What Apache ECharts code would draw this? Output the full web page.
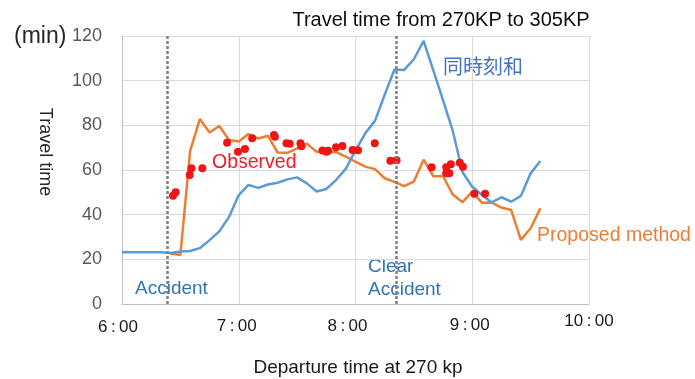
<!DOCTYPE html>
<html>
<head>
<meta charset="utf-8">
<script src="https://cdn.jsdelivr.net/npm/echarts/dist/echarts.min.js"></script>
<style>
  html, body { margin: 0; padding: 0; background: #ffffff; }
  #chart { width: 695px; height: 379px; }
</style>
</head>
<body>
<div id="chart"></div>
<script>
// Departure times (5-minute steps) for the simultaneous-sum estimate
const sumTimes = ['6:00','6:05','6:10','6:15','6:20','6:25','6:30','6:35','6:40','6:45','6:50','6:55',
  '7:00','7:05','7:10','7:15','7:20','7:25','7:30','7:35','7:40','7:45','7:50','7:55',
  '8:00','8:05','8:10','8:15','8:20','8:25','8:30','8:35','8:40','8:45','8:50','8:55',
  '9:00','9:05','9:10','9:15','9:20','9:25','9:30','9:35'];
// 同時刻和 travel time (min)
const sumValues = [23.2, 23.2, 23.2, 23.2, 23.2, 22.8, 23.5, 23.7, 25.0, 28.6, 32.5, 39.0,
  48.8, 53.3, 52.0, 53.5, 54.3, 55.8, 56.7, 54.0, 50.4, 51.5, 55.5, 60.5,
  68.8, 76.4, 82.0, 93.7, 105.0, 104.8, 109.6, 117.8, 104.6, 91.2, 77.5, 59.0,
  52.5, 48.8, 45.5, 47.8, 45.8, 48.4, 58.5, 64.0];

// Departure times for the proposed method
const proposedTimes = ['6:25','6:30','6:35','6:40','6:45','6:50','6:55',
  '7:00','7:05','7:10','7:15','7:20','7:25','7:30','7:35','7:40','7:45','7:50','7:55',
  '8:00','8:05','8:10','8:15','8:20','8:25','8:30','8:35','8:40','8:45','8:50','8:55',
  '9:00','9:05','9:10','9:15','9:20','9:25','9:30','9:35'];
// Proposed method travel time (min)
const proposedValues = [22.6, 21.9, 68.5, 82.8, 76.8, 79.7, 73.4,
  72.8, 76.1, 74.1, 75.3, 67.8, 67.7, 69.7, 71.8, 68.2, 68.3, 68.0, 66.0,
  63.7, 61.5, 60.4, 56.3, 54.7, 52.8, 54.8, 64.6, 57.2, 57.2, 49.0, 45.6,
  50.3, 45.3, 45.4, 43.2, 42.1, 28.7, 33.9, 42.8];

// Observed (probe) travel times
const observedTimes = ['6:26:12','6:27:36','6:34:48','6:35:42','6:41:18','6:54:00','6:59:36','7:03:12',
  '7:06:54','7:18:06','7:18:36','7:24:30','7:26:12','7:31:42','7:32:12','7:43:00','7:45:06','7:45:54',
  '7:50:00','7:53:18','7:58:30','8:01:18','8:09:54','8:17:54','8:21:06','8:39:06','8:46:36','8:49:00',
  '8:46:36','8:48:12','8:53:36','8:55:12','9:01:06','9:06:36'];
const observedValues = [48.5, 50.0, 57.8, 60.8, 60.8, 72.2, 68.2, 69.4,
  74.2, 75.7, 74.9, 72.0, 71.8, 72.0, 70.6, 68.7, 68.2, 68.6,
  70.2, 70.7, 68.9, 68.8, 72.0, 64.1, 64.4, 61.2, 61.2, 62.6,
  58.5, 58.5, 63.3, 61.5, 49.4, 49.4];

// Accident occurrence and clearance times
const eventTimes = ['6:23:18', '8:21:06'];

// Axis ticks
const xTicks = [6, 7, 8, 9, 10];
const yTicks = [0, 20, 40, 60, 80, 100, 120];

function toHours(s) {
  const p = s.split(':').map(Number);
  return p[0] + (p[1] || 0) / 60 + (p[2] || 0) / 3600;
}
const pair = (times, values) => times.map((t, i) => [toHours(t), values[i]]);

const FONT = '"Liberation Sans", Arial, sans-serif';
const chart = echarts.init(document.getElementById('chart'), null, { renderer: 'canvas' });

// x tick label styles (each label sits a little differently)
const xRich = {
  t6: { padding: [6, 8, 0, 0] },
  t7: { padding: [5, 4, 0, 0] },
  t8: { padding: [5, 16, 0, 0] },
  t9: { padding: [4, 5, 0, 0] },
  t10: { padding: [0, 0, 0, 0] }
};
Object.values(xRich).forEach(r => { r.fontSize = 17; r.fontFamily = FONT; r.color = '#1a1a1a'; });

const textStyle = (text, size, fill, align, family) => ({
  text, font: size + 'px ' + (family || FONT), fill,
  textAlign: align, textVerticalAlign: 'middle', verticalAlign: 'middle'
});

chart.setOption({
  animation: false,
  backgroundColor: '#ffffff',
  grid: { left: 122, right: 106, top: 36, bottom: 75 },
  xAxis: {
    type: 'value',
    min: xTicks[0], max: xTicks[xTicks.length - 1], interval: 1,
    axisLine: { show: true, lineStyle: { color: '#BFBFBF', width: 1 } },
    axisTick: { show: false },
    splitLine: { show: true, lineStyle: { color: '#D9D9D9', width: 1 } },
    axisLabel: {
      margin: 9,
      formatter: v => '{t' + v + '|' + v + '\u2009:\u200900}',
      rich: xRich
    }
  },
  yAxis: {
    type: 'value',
    min: yTicks[0], max: yTicks[yTicks.length - 1], interval: 20,
    axisLine: { show: true, lineStyle: { color: '#BFBFBF', width: 1 } },
    axisTick: { show: false },
    splitLine: { show: true, lineStyle: { color: '#D9D9D9', width: 1 } },
    axisLabel: { margin: 20, fontSize: 18, fontFamily: FONT, color: '#595959' }
  },
  series: [
    {
      name: 'Proposed method',
      type: 'line',
      data: pair(proposedTimes, proposedValues),
      symbol: 'none',
      lineStyle: { color: '#ED7D31', width: 2.5 },
      z: 2,
      markLine: {
        silent: true,
        symbol: 'none',
        label: { show: false },
        lineStyle: { color: '#7F7F7F', type: [3, 2], width: 2.5 },
        data: eventTimes.map(t => ({ xAxis: toHours(t) }))
      }
    },
    {
      name: '同時刻和',
      type: 'line',
      data: pair(sumTimes, sumValues),
      symbol: 'none',
      lineStyle: { color: '#5B9BD5', width: 2.5 },
      z: 3
    },
    {
      name: 'Observed',
      type: 'scatter',
      data: pair(observedTimes, observedValues),
      symbol: 'circle',
      symbolSize: 8,
      itemStyle: { color: '#F01414', opacity: 1 },
      z: 4
    }
  ],
  graphic: [
    { type: 'text', x: 441, y: 20, style: textStyle('Travel time from 270KP to 305KP', 20, '#0d0d0d', 'center') },
    { type: 'text', x: 14, y: 37, style: textStyle('(min)', 23, '#262626', 'left') },
    { type: 'text', x: 45, y: 152, rotation: -Math.PI / 2, style: textStyle('Travel time', 18, '#262626', 'center') },
    { type: 'text', x: 358, y: 368, style: textStyle('Departure time at 270 kp', 19, '#1a1a1a', 'center') },
    { type: 'text', x: 135, y: 289, style: textStyle('Accident', 19, '#2E75B6', 'left') },
    { type: 'text', x: 368, y: 267, style: textStyle('Clear', 19, '#2E75B6', 'left') },
    { type: 'text', x: 368, y: 290, style: textStyle('Accident', 19, '#2E75B6', 'left') },
    { type: 'text', x: 212, y: 163, style: textStyle('Observed', 19.5, '#EE1C25', 'left') },
    { type: 'text', x: 443, y: 66, style: textStyle('同時刻和', 20, '#4472C4', 'left', '"Noto Sans CJK JP", sans-serif') },
    { type: 'text', x: 537, y: 236, style: textStyle('Proposed method', 19.5, '#ED7D31', 'left') }
  ]
});
</script>
</body>
</html>
